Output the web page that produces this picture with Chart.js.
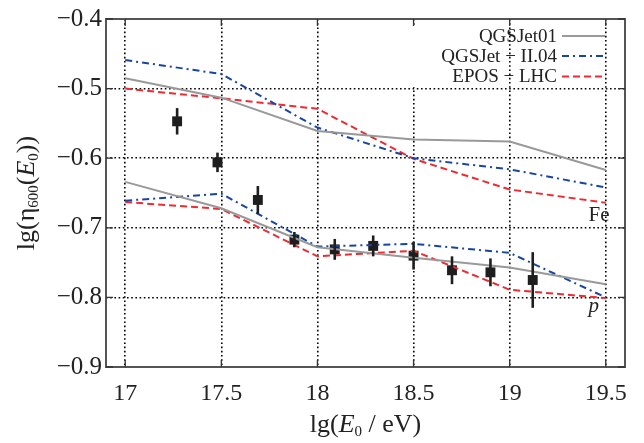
<!DOCTYPE html>
<html><head><meta charset="utf-8">
<script src="https://cdn.jsdelivr.net/npm/chart.js@4/dist/chart.umd.min.js"></script>
<style>html,body{margin:0;padding:0;background:#fff;}</style>
</head><body>
<canvas id="c" width="644" height="443"></canvas>
<script>
// ---- data ----
const energyGrid = [17, 17.5, 18, 18.5, 19, 19.5];
const qgsjet01Fe = [-0.485, -0.513, -0.561, -0.573, -0.576, -0.617];
const qgsjet2Fe  = [-0.459, -0.479, -0.556, -0.600, -0.616, -0.642];
const eposFe     = [-0.500, -0.514, -0.529, -0.601, -0.645, -0.664];
const qgsjet01P  = [-0.634, -0.672, -0.728, -0.743, -0.757, -0.781];
const qgsjet2P   = [-0.661, -0.651, -0.727, -0.723, -0.736, -0.800];
const eposP      = [-0.663, -0.673, -0.741, -0.733, -0.789, -0.801];

const measE   = [17.27, 17.48, 17.69, 17.88, 18.09, 18.29, 18.50, 18.70, 18.90, 19.12];
const measY   = [-0.547, -0.606, -0.660, -0.717, -0.731, -0.726, -0.740, -0.761, -0.764, -0.775];
const measErr = [0.019, 0.014, 0.020, 0.011, 0.015, 0.015, 0.020, 0.020, 0.020, 0.040];

const xTicks = [17, 17.5, 18, 18.5, 19, 19.5];
const yTicks = [-0.9, -0.8, -0.7, -0.6, -0.5, -0.4];
const modelNames = ['QGSJet01', 'QGSJet \u2212 II.04', 'EPOS \u2212 LHC'];
const primaryLabels = ['Fe', 'p'];
const primaryLabelPos = [[19.41, -0.690], [19.41, -0.8207]];

// ---- styles ----
const SERIF = '"Liberation Serif", "Times New Roman", serif';
const styles = [
  {color: '#999999', dash: [], width: 2},
  {color: '#1746a2', dash: [7, 4, 2, 4], width: 2},
  {color: '#ee2b33', dash: [7, 4], width: 2}
];
const pts = (xs, ys) => xs.map((x, i) => ({x: x, y: ys[i]}));
function lineDS(label, ys, st) {
  return {label: label, data: pts(energyGrid, ys), borderColor: st.color, borderDash: st.dash,
    borderWidth: st.width, pointRadius: 0, fill: false, tension: 0, showLine: true};
}
const datasets = [
  lineDS(modelNames[0] + ' Fe', qgsjet01Fe, styles[0]),
  lineDS(modelNames[0] + ' p', qgsjet01P, styles[0]),
  lineDS(modelNames[1] + ' Fe', qgsjet2Fe, styles[1]),
  lineDS(modelNames[1] + ' p', qgsjet2P, styles[1]),
  lineDS(modelNames[2] + ' Fe', eposFe, styles[2]),
  lineDS(modelNames[2] + ' p', eposP, styles[2]),
  {label: 'data', data: pts(measE, measY), showLine: false, pointStyle: 'rect', pointRadius: 7,
    backgroundColor: '#1e1e1e', borderColor: '#1e1e1e', borderWidth: 0, errors: measErr}
];

function drawPieces(ctx, pieces, x, y) {
  let w = 0;
  pieces.forEach(p => { ctx.font = p[1]; w += ctx.measureText(p[0]).width; });
  let cx = x - w / 2;
  ctx.textAlign = 'left';
  pieces.forEach(p => { ctx.font = p[1]; ctx.fillText(p[0], cx, y + p[2]); cx += ctx.measureText(p[0]).width; });
}

const decorPlugin = {
  id: 'decor',
  beforeDatasetsDraw(chart) {
    const ctx = chart.ctx, a = chart.chartArea;
    ctx.save();
    ctx.fillStyle = '#fff';
    ctx.fillRect(a.right - 227, a.top + 6, 44, 62);
    ctx.restore();
  },
  afterDatasetsDraw(chart) {
    const ctx = chart.ctx, a = chart.chartArea;
    const xs = chart.scales.x, ys = chart.scales.y;
    ctx.save();
    // error bars
    const ds = chart.data.datasets[6];
    ctx.strokeStyle = '#1e1e1e'; ctx.lineWidth = 2.6; ctx.setLineDash([]);
    ds.data.forEach((p, i) => {
      const px = xs.getPixelForValue(p.x);
      ctx.beginPath();
      ctx.moveTo(px, ys.getPixelForValue(p.y + ds.errors[i]));
      ctx.lineTo(px, ys.getPixelForValue(p.y - ds.errors[i]));
      ctx.stroke();
    });
    // frame
    ctx.strokeStyle = '#555'; ctx.lineWidth = 2;
    ctx.strokeRect(a.left, a.top, a.right - a.left, a.bottom - a.top);
    // inward ticks
    ctx.lineWidth = 1.3; ctx.strokeStyle = '#333';
    const tl = 7;
    xTicks.forEach(v => {
      const px = xs.getPixelForValue(v);
      ctx.beginPath(); ctx.moveTo(px, a.top); ctx.lineTo(px, a.top + tl);
      ctx.moveTo(px, a.bottom); ctx.lineTo(px, a.bottom - tl); ctx.stroke();
    });
    yTicks.forEach(v => {
      const py = ys.getPixelForValue(v);
      ctx.beginPath(); ctx.moveTo(a.left, py); ctx.lineTo(a.left + tl, py);
      ctx.moveTo(a.right, py); ctx.lineTo(a.right - tl, py); ctx.stroke();
    });
    // Fe / p labels
    ctx.fillStyle = '#222'; ctx.textBaseline = 'alphabetic'; ctx.textAlign = 'left';
    ctx.font = '21px ' + SERIF;
    ctx.fillText(primaryLabels[0], xs.getPixelForValue(primaryLabelPos[0][0]), ys.getPixelForValue(primaryLabelPos[0][1]));
    ctx.font = 'italic 21px ' + SERIF;
    ctx.fillText(primaryLabels[1], xs.getPixelForValue(primaryLabelPos[1][0]), ys.getPixelForValue(primaryLabelPos[1][1]));
    // legend
    const textRight = a.right - 68, lx0 = a.right - 63, lx1 = a.right - 20;
    const rowY = [a.top + 17, a.top + 37, a.top + 57.5];
    ctx.font = '19px ' + SERIF; ctx.textAlign = 'right'; ctx.textBaseline = 'middle';
    modelNames.forEach((n, i) => {
      ctx.fillStyle = '#222';
      ctx.fillText(n, textRight, rowY[i] + 1);
      ctx.strokeStyle = styles[i].color; ctx.lineWidth = styles[i].width; ctx.setLineDash(styles[i].dash);
      ctx.beginPath(); ctx.moveTo(lx0, rowY[i]); ctx.lineTo(lx1, rowY[i]); ctx.stroke();
    });
    ctx.setLineDash([]);
    // axis titles
    ctx.fillStyle = '#222'; ctx.textBaseline = 'middle';
    const big = '26px ' + SERIF, bigI = 'italic 26px ' + SERIF, sub = '15px ' + SERIF;
    drawPieces(ctx, [['lg(', big, 0], ['E', bigI, 0], ['0', sub, 7], [' / eV)', big, 0]], (a.left + a.right) / 2, 425);
    ctx.translate(27, (a.top + a.bottom) / 2);
    ctx.rotate(-Math.PI / 2);
    drawPieces(ctx, [['lg(\u03b7', big, 0], ['600', sub, 7], ['(', big, 0], ['E', bigI, 0], ['0', sub, 7], ['))', big, 0]], 0, 0);
    ctx.restore();
  }
};

new Chart(document.getElementById('c'), {
  type: 'line',
  data: {datasets: datasets},
  plugins: [decorPlugin],
  options: {
    responsive: false, animation: false, devicePixelRatio: 1,
    layout: {padding: {left: 0, right: 19, top: 11, bottom: 0}},
    plugins: {legend: {display: false}, tooltip: {enabled: false}},
    scales: {
      x: {
        type: 'linear', min: 16.9, max: 19.6,
        afterBuildTicks: s => { s.ticks = xTicks.map(v => ({value: v})); },
        afterFit: s => { s.height = 76; },
        grid: {color: '#000', lineWidth: 1.6, drawTicks: false},
        border: {display: false, dash: [1.6, 2.6]},
        ticks: {color: '#222', padding: 12, font: {family: SERIF, size: 24}, maxRotation: 0,
          callback: v => String(v)}
      },
      y: {
        type: 'linear', min: -0.9, max: -0.4,
        afterBuildTicks: s => { s.ticks = yTicks.map(v => ({value: v})); },
        afterFit: s => { s.width = 106; },
        grid: {color: '#000', lineWidth: 1.6, drawTicks: false},
        border: {display: false, dash: [1.6, 2.6]},
        ticks: {color: '#222', padding: 4, font: {family: SERIF, size: 25},
          callback: v => (v < 0 ? '\u2212' : '') + Math.abs(v).toFixed(1)}
      }
    }
  }
});
</script>
</body></html>
